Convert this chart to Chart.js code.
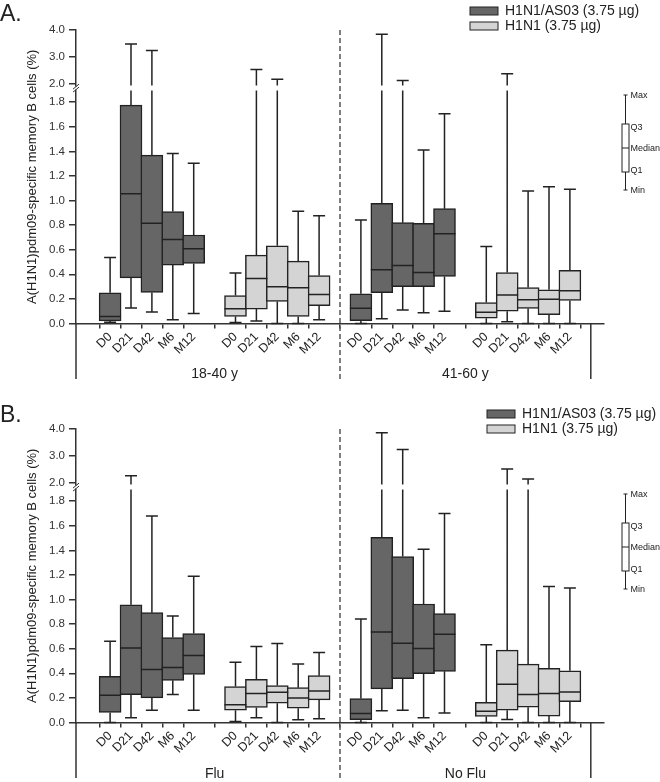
<!DOCTYPE html>
<html>
<head>
<meta charset="utf-8">
<script src="https://cdn.jsdelivr.net/npm/chart.js@4"></script>
<style>
  body { margin: 0; background: #fff; }
  .panel { position: absolute; left: 0; width: 660px; height: 383px; }
</style>
</head>
<body>
<div class="panel" style="top:0"><canvas id="chartA" width="660" height="383"></canvas></div>
<div class="panel" style="top:399px"><canvas id="chartB" width="660" height="383"></canvas></div>
<script>
var timepoints = ['D0', 'D21', 'D42', 'M6', 'M12'];

// each row: [min, Q1, median, Q3, max] for D0, D21, D42, M6, M12
// Panel A: age groups
var young_adj   = [[0.01, 0.021, 0.057, 0.25, 0.537], [0.127, 0.371, 1.056, 1.776, 3.48], [0.094, 0.252, 0.815, 1.369, 3.24], [0.03, 0.475, 0.684, 0.91, 1.382], [0.081, 0.488, 0.608, 0.72, 1.303]];
var young_plain = [[0.008, 0.057, 0.119, 0.228, 0.41], [0.021, 0.117, 0.366, 0.556, 2.54], [0, 0.179, 0.298, 0.632, 2.18], [0, 0.057, 0.29, 0.507, 0.912], [0.03, 0.144, 0.236, 0.39, 0.877]];
var older_adj   = [[0, 0.024, 0.125, 0.242, 0.842], [0.038, 0.25, 0.437, 0.978, 3.84], [0.109, 0.299, 0.472, 0.82, 2.13], [0.087, 0.299, 0.415, 0.815, 1.412], [0.1, 0.383, 0.73, 0.934, 1.705]];
var older_plain = [[0, 0.043, 0.092, 0.171, 0.627], [0.014, 0.1, 0.231, 0.415, 2.38], [0, 0.122, 0.193, 0.293, 1.078], [0, 0.071, 0.198, 0.274, 1.113], [0, 0.187, 0.266, 0.432, 1.092]];

// Panel B: flu / no flu
var flu_adj     = [[0, 0.081, 0.222, 0.375, 0.661], [0.038, 0.227, 0.605, 0.958, 2.27], [0.1, 0.2, 0.432, 0.893, 1.679], [0.227, 0.343, 0.448, 0.691, 0.866], [0.1, 0.391, 0.545, 0.723, 1.19]];
var flu_plain   = [[0.009, 0.1, 0.144, 0.292, 0.491], [0.038, 0.122, 0.235, 0.351, 0.618], [0, 0.157, 0.246, 0.3, 0.642], [0.022, 0.116, 0.2, 0.283, 0.475], [0.03, 0.184, 0.256, 0.381, 0.569]];
var noflu_adj   = [[0, 0.022, 0.073, 0.195, 0.842], [0.095, 0.273, 0.737, 1.506, 3.86], [0.1, 0.357, 0.645, 1.35, 3.24], [0.038, 0.397, 0.602, 0.964, 1.409], [0.078, 0.416, 0.718, 0.885, 1.7]];
var noflu_plain = [[0, 0.049, 0.092, 0.165, 0.632], [0.025, 0.1, 0.311, 0.589, 2.52], [0, 0.124, 0.227, 0.475, 2.15], [0, 0.052, 0.235, 0.44, 1.107], [0, 0.17, 0.249, 0.421, 1.093]];

var yTickValues = [0, 0.2, 0.4, 0.6, 0.8, 1.0, 1.2, 1.4, 1.6, 1.8, 2, 3, 4];
var yTickLabels = ['0.0', '0.2', '0.4', '0.6', '0.8', '1.0', '1.2', '1.4', '1.6', '1.8', '2.0', '3.0', '4.0'];
var xSlots = [0, 1, 2, 3, 4, 6, 7, 8, 9, 10, 12, 13, 14, 15, 16, 18, 19, 20, 21, 22];

var dark = '#666666', light = '#d4d4d4', ink = '#222';
var fontFam = '"Liberation Sans", Arial, sans-serif';
Chart.defaults.font.family = fontFam;
Chart.defaults.color = '#333';

// broken y axis: 0-1.8 linear, then 2-4 compressed
var breakBase = 1.947, upperScale = 0.22;
function brk(v) {
  if (v <= 1.8) return v;
  if (v < 2) return 1.8 + (v - 1.8) / 0.2 * (breakBase - 1.8);
  return breakBase + (v - 2) * upperScale;
}

function boxData(first, second, startA, startB) {
  var pts = [];
  first.forEach(function(s, i) { pts.push({x: startA + i, y: [brk(s[1]), brk(s[3])], s: s}); });
  second.forEach(function(s, i) { pts.push({x: startB + i, y: [brk(s[1]), brk(s[3])], s: s}); });
  return pts;
}

function seg(ctx, x1, y1, x2, y2) {
  ctx.moveTo(x1, y1);
  ctx.lineTo(x2, y2);
}

var boxParts = {
  id: 'boxParts',
  beforeDatasetsDraw: function(chart) {
    var ctx = chart.ctx, xs = chart.scales.x, ys = chart.scales.y;
    var gapTop = ys.getPixelForValue(brk(2)) + 1.5;
    ctx.save();
    ctx.strokeStyle = ink;
    ctx.lineWidth = 1.5;
    ctx.beginPath();
    chart.data.datasets.forEach(function(ds) {
      ds.data.forEach(function(p) {
        var px = xs.getPixelForValue(p.x);
        var yMin = ys.getPixelForValue(brk(p.s[0]));
        var yQ1 = ys.getPixelForValue(brk(p.s[1]));
        var yQ3 = ys.getPixelForValue(brk(p.s[3]));
        var yMax = ys.getPixelForValue(brk(p.s[4]));
        if (p.s[4] > 2) {
          seg(ctx, px, yQ3, px, gapTop + 5);
          seg(ctx, px, gapTop, px, yMax);
        } else {
          seg(ctx, px, yQ3, px, yMax);
        }
        seg(ctx, px - 6, yMax, px + 6, yMax);
        seg(ctx, px, yQ1, px, yMin);
        seg(ctx, px - 6, yMin, px + 6, yMin);
      });
    });
    ctx.stroke();
    ctx.restore();
  },
  afterDatasetsDraw: function(chart) {
    var ctx = chart.ctx, xs = chart.scales.x, ys = chart.scales.y;
    ctx.save();
    ctx.strokeStyle = ink;
    ctx.lineWidth = 1.5;
    ctx.beginPath();
    chart.data.datasets.forEach(function(ds) {
      ds.data.forEach(function(p) {
        var px = xs.getPixelForValue(p.x);
        var yMed = ys.getPixelForValue(brk(p.s[2]));
        seg(ctx, px - 11, yMed, px + 11, yMed);
      });
    });
    ctx.stroke();
    ctx.restore();
  },
  afterDraw: function(chart, args, o) {
    var ctx = chart.ctx, xs = chart.scales.x, ys = chart.scales.y, a = chart.chartArea;
    ctx.save();
    ctx.strokeStyle = '#333';
    ctx.lineWidth = 1.5;
    ctx.beginPath();
    seg(ctx, a.left, a.bottom, a.left, o.floor);
    seg(ctx, xs.getPixelForValue(23), a.bottom, xs.getPixelForValue(23), o.floor);
    ctx.stroke();
    // dashed divider between the two groups
    ctx.setLineDash([5, 3]);
    ctx.strokeStyle = '#555';
    ctx.beginPath();
    seg(ctx, xs.getPixelForValue(11), a.top, xs.getPixelForValue(11), o.floor);
    ctx.stroke();
    ctx.setLineDash([]);

    // axis break marks
    var yb = ys.getPixelForValue(brk(2)) + 4;
    ctx.fillStyle = '#fff';
    ctx.fillRect(a.left - 1.5, yb - 1.5, 3, 3);
    ctx.strokeStyle = '#333';
    ctx.lineWidth = 1;
    ctx.beginPath();
    seg(ctx, a.left - 3, yb + 1, a.left + 3, yb - 4);
    seg(ctx, a.left - 3, yb + 4, a.left + 3, yb - 1);
    ctx.stroke();

    // group names under the axis
    ctx.fillStyle = ink;
    ctx.font = '14px ' + fontFam;
    ctx.textAlign = 'center';
    ctx.textBaseline = 'middle';
    ctx.fillText(o.groups[0], xs.getPixelForValue(5), o.groupY);
    ctx.fillText(o.groups[1], xs.getPixelForValue(17), o.groupY);

    // panel letter
    ctx.textAlign = 'left';
    ctx.textBaseline = 'alphabetic';
    ctx.font = '23px ' + fontFam;
    ctx.fillText(o.letter, 0, o.letterY);

    // legend
    ctx.font = '14px ' + fontFam;
    ctx.textBaseline = 'middle';
    chart.data.datasets.forEach(function(ds, i) {
      var ly = o.legendY + i * 15;
      ctx.fillStyle = ds.backgroundColor;
      ctx.fillRect(o.legendX, ly, 28, 8);
      ctx.strokeStyle = ink;
      ctx.lineWidth = 1;
      ctx.strokeRect(o.legendX, ly, 28, 8);
      ctx.fillStyle = ink;
      ctx.fillText(ds.label, o.legendX + 35, ly + 4.5);
    });

    // box plot key
    var kx = 625.5;
    ctx.strokeStyle = ink;
    ctx.lineWidth = 1;
    ctx.beginPath();
    seg(ctx, kx, 95, kx, 190);
    seg(ctx, kx - 2, 95, kx + 2, 95);
    seg(ctx, kx - 2, 190, kx + 2, 190);
    ctx.stroke();
    ctx.fillStyle = '#fff';
    ctx.fillRect(kx - 3.5, 124, 7, 48);
    ctx.strokeRect(kx - 3.5, 124, 7, 48);
    ctx.beginPath();
    seg(ctx, kx - 3.5, 148, kx + 3.5, 148);
    ctx.stroke();
    ctx.fillStyle = ink;
    ctx.font = '9px ' + fontFam;
    ctx.fillText('Max', kx + 5, 96);
    ctx.fillText('Q3', kx + 5, 128);
    ctx.fillText('Median', kx + 5, 148.5);
    ctx.fillText('Q1', kx + 5, 171);
    ctx.fillText('Min', kx + 5, 190.5);
    ctx.restore();
  }
};

function makeChart(id, adjRows, plainRows, opts) {
  return new Chart(document.getElementById(id), {
    type: 'bar',
    data: {
      datasets: [
        {
          label: 'H1N1/AS03 (3.75 µg)',
          data: boxData(adjRows[0], adjRows[1], 0, 12),
          backgroundColor: dark,
          borderColor: ink,
          borderWidth: 1.5,
          borderSkipped: false,
          barThickness: 22,
          grouped: false
        },
        {
          label: 'H1N1 (3.75 µg)',
          data: boxData(plainRows[0], plainRows[1], 6, 18),
          backgroundColor: light,
          borderColor: ink,
          borderWidth: 1.5,
          borderSkipped: false,
          barThickness: 22,
          grouped: false
        }
      ]
    },
    options: {
      responsive: false,
      animation: false,
      layout: { padding: { top: 30, right: 56, bottom: 0, left: 0 } },
      plugins: {
        legend: { display: false },
        tooltip: { enabled: false },
        boxParts: opts
      },
      scales: {
        x: {
          type: 'linear',
          min: -1,
          max: 23,
          afterBuildTicks: function(s) { s.ticks = xSlots.map(function(v) { return {value: v}; }); },
          afterFit: function(s) { s.height = 59.5; },
          ticks: {
            autoSkip: false,
            minRotation: 45,
            maxRotation: 45,
            padding: 1,
            color: ink,
            font: { size: 12.5 },
            callback: function(v) { return timepoints[v % 6]; }
          },
          grid: { drawOnChartArea: false, tickLength: 5, color: '#333', lineWidth: 1.5 },
          border: { color: '#333', width: 1.5 }
        },
        y: {
          min: 0,
          max: brk(4),
          afterBuildTicks: function(s) { s.ticks = yTickValues.map(function(v) { return {value: brk(v)}; }); },
          afterFit: function(s) { s.width = 76; },
          ticks: {
            autoSkip: false,
            padding: 4,
            color: '#333',
            font: { size: 11.5 },
            callback: function(v, i) { return yTickLabels[i]; }
          },
          grid: { drawOnChartArea: false, tickLength: 7, color: '#333', lineWidth: 1.5 },
          border: { color: '#333', width: 1.5 },
          title: {
            display: true,
            text: 'A(H1N1)pdm09-specific memory B cells (%)',
            color: ink,
            font: { size: 13 },
            padding: { top: 25, bottom: 0 }
          }
        }
      }
    },
    plugins: [boxParts]
  });
}

makeChart('chartA', [young_adj, older_adj], [young_plain, older_plain], {
  letter: 'A.', letterY: 21, legendX: 470, legendY: 7,
  groups: ['18-40 y', '41-60 y'], groupY: 374.5, floor: 379
});
makeChart('chartB', [flu_adj, noflu_adj], [flu_plain, noflu_plain], {
  letter: 'B.', letterY: 23, legendX: 487, legendY: 11,
  groups: ['Flu', 'No Flu'], groupY: 375, floor: 379
});
</script>
</body>
</html>
